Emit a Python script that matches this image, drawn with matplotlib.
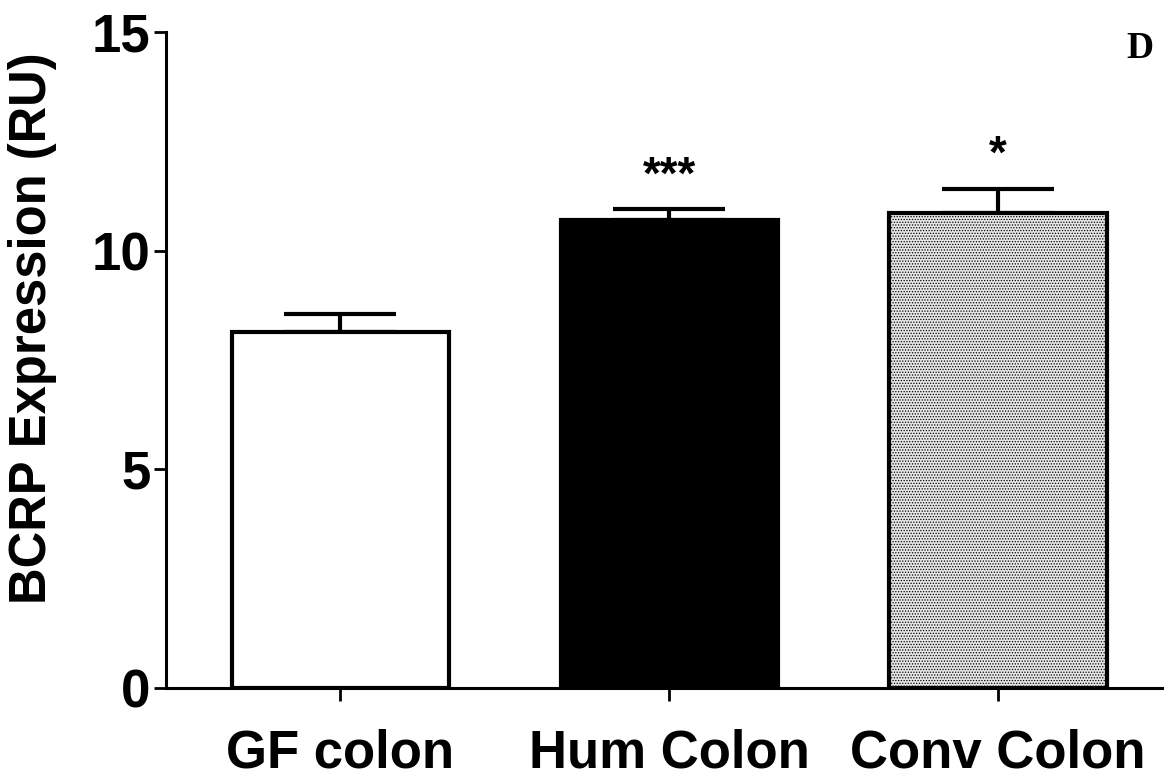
import numpy as np
from matplotlib import pyplot as plt

plt.rcParams['font.family'] = ['Liberation Sans', 'DejaVu Sans']
plt.rcParams['hatch.linewidth'] = 0.6
plt.rcParams['hatch.color'] = '#7f7f7f'

groups = ['GF colon', 'Hum Colon', 'Conv Colon']
means = [8.14, 10.70, 10.86]
sem = [0.41, 0.25, 0.55]
stars = ['', '***', '*']

fig = plt.figure(figsize=(11.73, 7.82), dpi=100)
ax = fig.add_axes([0.1415, 0.12, 0.8495, 0.839])

x = np.arange(len(groups))
faces = ['white', 'black', '#e6e6e6']
hatches = [None, None, '......']
for i in range(len(groups)):
    ax.bar(x[i], means[i], width=0.66, color=faces[i], edgecolor='black',
           linewidth=3, hatch=hatches[i], zorder=2)

ax.errorbar(x, means, yerr=[np.zeros(len(x)), sem], fmt='none', ecolor='black',
            elinewidth=3, capsize=40, capthick=3, zorder=1)

for i, s in enumerate(stars):
    if s:
        ax.text(x[i], means[i] + sem[i] + 0.48, s, ha='center', va='baseline',
                fontsize=33, fontweight='bold')

ax.set_xlim(-0.53, 2.5)
ax.set_ylim(0, 15)
ax.set_yticks([0, 5, 10, 15])
ax.set_xticks(x)
ax.set_xticklabels(groups)
for sp in ['top', 'right']:
    ax.spines[sp].set_visible(False)
for sp in ['left', 'bottom']:
    ax.spines[sp].set_linewidth(2.2)
ax.tick_params(axis='both', width=2, length=9, labelsize=38, direction='out')
ax.tick_params(axis='y', pad=2)
ax.tick_params(axis='x', pad=20)
for lab in ax.get_xticklabels() + ax.get_yticklabels():
    lab.set_fontweight('bold')

ax.set_ylabel('BCRP Expression (RU)', fontsize=36.5, fontweight='bold')
ax.yaxis.set_label_coords(-0.109, 0.549)

fig.text(0.972, 0.938, 'D', fontsize=27, fontweight='bold',
         family=['Liberation Serif', 'DejaVu Serif'], ha='center', va='center')

fig.savefig('out.png', dpi=100)
